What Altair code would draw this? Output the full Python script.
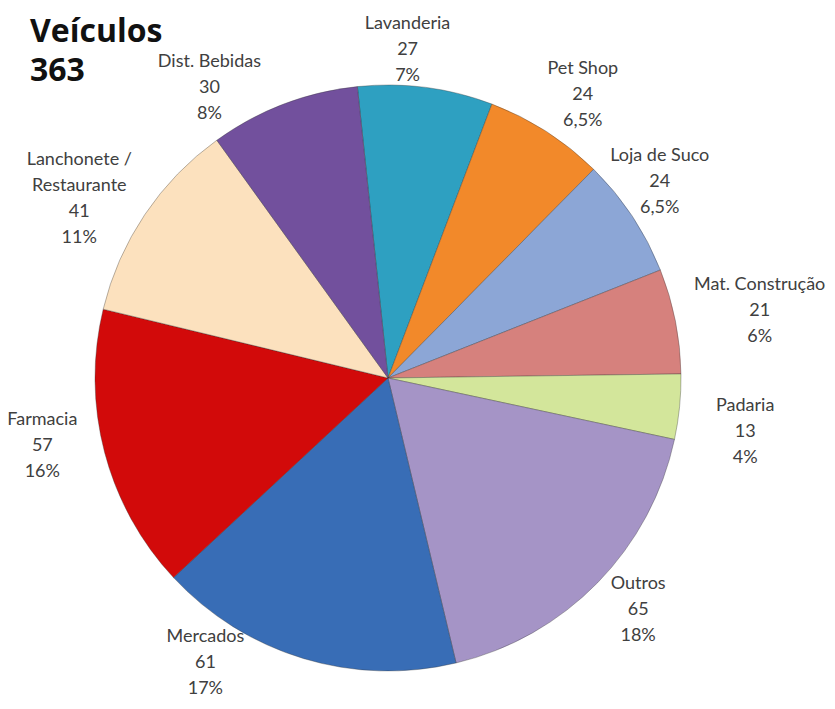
import math
import altair as alt
import pandas as pd

categories = ["Lavanderia", "Pet Shop", "Loja de Suco", "Mat. Construção", "Padaria",
              "Outros", "Mercados", "Farmacia", "Lanchonete /\nRestaurante", "Dist. Bebidas"]
values = [27, 24, 24, 21, 13, 65, 61, 57, 41, 30]
percents = ["7%", "6,5%", "6,5%", "6%", "4%", "18%", "17%", "16%", "11%", "8%"]
colors = ["#2EA0C1", "#F2892A", "#8CA6D6", "#D6817D", "#D3E69B",
          "#A594C6", "#386DB6", "#D20A0A", "#FCE1BE", "#72509D"]
title_lines = "Veículos\n363"

# label placement styles (angle nudge in degrees, distance from centre in px)
label_nudge = [-4, 1.7, -2.5, 0.7, 2.7, -1.7, 16.0, 3.8, -3.5, -10.6]
label_dist = [331, 345, 336, 378, 361, 340, 337, 352, 358, 342]
line_h = 26

df = pd.DataFrame({
    "cat": categories,
    "val": values,
    "pct": percents,
    "order": list(range(len(categories))),
})
df["label"] = df["cat"] + "\n" + df["val"].astype(str) + "\n" + df["pct"]

start_deg = -6.0
start = math.radians(start_deg)
theta_scale = alt.Scale(range=[start, start + 2 * math.pi])

cx, cy = 380, 370

total = df["val"].sum()
cum = df["val"].cumsum() - df["val"] / 2
mid = start_deg + cum / total * 360 + pd.Series(label_nudge)
rad = pd.Series(label_dist)
nlines = df["label"].str.count("\n") + 1
df["lx"] = cx + rad * (mid.map(lambda a: math.sin(math.radians(a))))
df["ly"] = cy + 2 - rad * (mid.map(lambda a: math.cos(math.radians(a)))) - (nlines - 1) * line_h / 2

base = alt.Chart(df).encode(
    theta=alt.Theta("val:Q", stack=True, scale=theta_scale),
    order=alt.Order("order:Q"),
)

pie = base.mark_arc(outerRadius=293, stroke="#333333", strokeOpacity=0.35, strokeWidth=1).encode(
    color=alt.Color("cat:N", scale=alt.Scale(domain=categories, range=colors), legend=None),
    x=alt.value(cx), y=alt.value(cy),
)

labels = alt.Chart(df).mark_text(fontSize=18, font="Lato", color="#404040",
                                 lineBreak="\n", lineHeight=line_h, align="center",
                                 baseline="middle").encode(
    text="label:N",
    x=alt.X("lx:Q", scale=None, axis=None),
    y=alt.Y("ly:Q", scale=None, axis=None),
)

title = alt.Chart(pd.DataFrame({"t": [title_lines]})).mark_text(
    align="left", baseline="top", fontSize=32, fontWeight="bold", font="Open Sans",
    color="#111111", lineBreak="\n", lineHeight=39
).encode(text="t:N", x=alt.value(22), y=alt.value(9))

chart = alt.layer(pie, labels, title).properties(
    width=819, height=693, autosize=alt.AutoSizeParams(type="none"), padding=0
).configure_view(stroke=None)

chart.save("out.html", embed_options={"renderer": "svg", "actions": False})
